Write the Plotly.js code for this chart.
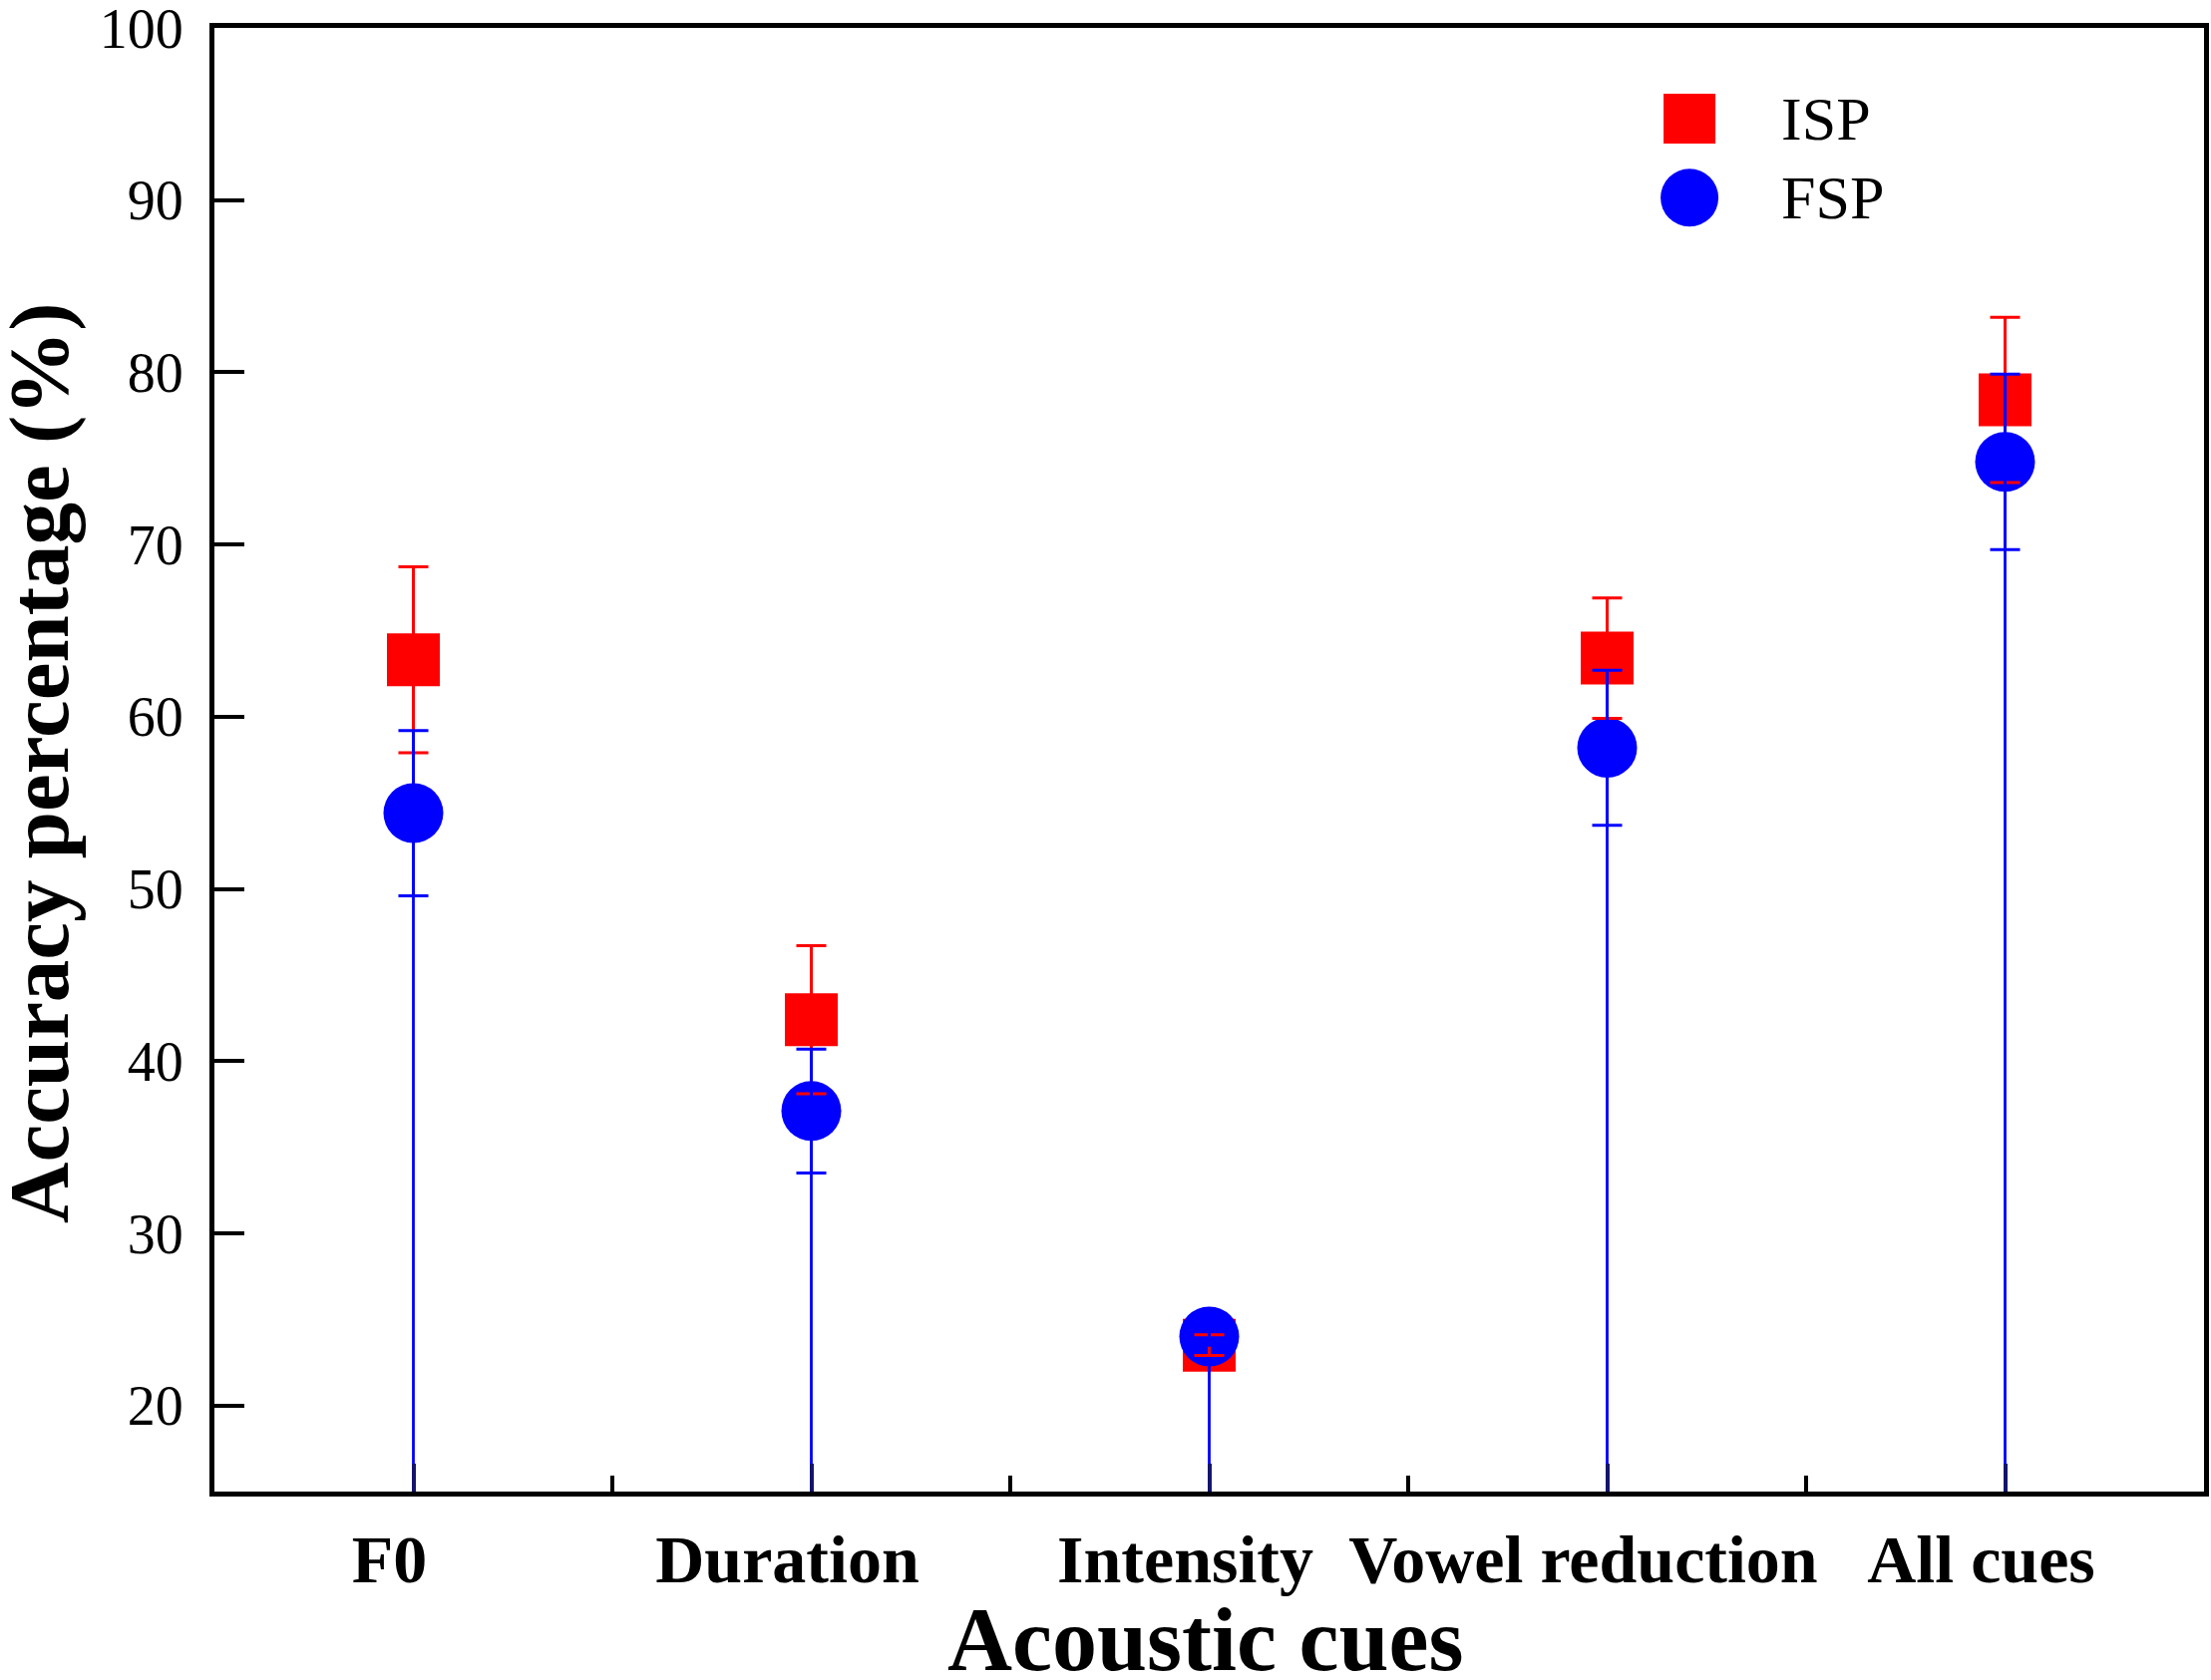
<!DOCTYPE html>
<html>
<head>
<meta charset="utf-8">
<script src="https://cdn.plot.ly/plotly-3.0.1.min.js"></script>
<style>
  html, body { margin: 0; padding: 0; background: #fff; }
  #chart { width: 2217px; height: 1685px; }
</style>
</head>
<body>
<div id="chart"></div>
<script>
// data
var cues = ['F0', 'Duration', 'Intensity', 'Vowel reduction', 'All cues'];
var ispMean = [63.3, 42.4, 23.5, 63.4, 78.4];
var ispErr = [5.4, 4.3, 0.6, 3.5, 4.8];
var fspMean = [54.4, 37.1, 24.0, 58.2, 74.8];
var fspErr = [4.8, 3.6, 0.5, 4.5, 5.1];
var yTicks = [20, 30, 40, 50, 60, 70, 80, 90, 100];

var yMin = 15, yMax = 100;
var red = '#ff0000', blue = '#0000ff';
var serif = 'Liberation Serif, Times New Roman, serif';

var xIdx = cues.map(function (c, i) { return i; });

// blue drop lines from each FSP point to the bottom axis
var dropX = [], dropY = [];
xIdx.forEach(function (i) {
  dropX.push(i, i, null);
  dropY.push(fspMean[i], yMin, null);
});

var isp = {
  x: xIdx, y: ispMean, name: 'ISP', type: 'scatter', mode: 'markers',
  marker: { symbol: 'square', size: 53, color: red },
  showlegend: false, hoverinfo: 'skip'
};
var fsp = {
  x: xIdx, y: fspMean, name: 'FSP', type: 'scatter', mode: 'markers',
  marker: { symbol: 'circle', size: 60, color: blue },
  showlegend: false, hoverinfo: 'skip'
};
var drops = {
  x: dropX, y: dropY, type: 'scatter', mode: 'lines',
  line: { color: blue, width: 2.8 }, showlegend: false, hoverinfo: 'skip'
};
// error bars drawn above all markers, as in the original
var ispBars = {
  x: xIdx, y: ispMean, type: 'scatter', mode: 'markers',
  marker: { size: 1, color: 'rgba(0,0,0,0)' },
  error_y: { type: 'data', array: ispErr, visible: true, color: red, thickness: 3, width: 15 },
  showlegend: false, hoverinfo: 'skip'
};
var fspBars = {
  x: xIdx, y: fspMean, type: 'scatter', mode: 'markers',
  marker: { size: 1, color: 'rgba(0,0,0,0)' },
  error_y: { type: 'data', array: fspErr, visible: true, color: blue, thickness: 3, width: 15 },
  showlegend: false, hoverinfo: 'skip'
};

var layout = {
  width: 2217, height: 1685,
  margin: { l: 215, r: 7, t: 28, b: 189 },
  paper_bgcolor: '#fff', plot_bgcolor: '#fff',
  font: { family: serif, color: '#000' },
  showlegend: false,
  xaxis: {
    range: [-0.5, 4.5],
    tickmode: 'array', tickvals: xIdx, ticktext: cues,
    ticks: 'inside', ticklen: 28, tickwidth: 4, tickcolor: '#14146e',
    tickfont: { family: serif, size: 68, weight: 'bold', color: '#000' },
    ticklabelstandoff: 4, ticklabelshift: -24,
    minor: { tickmode: 'array', tickvals: [0.5, 1.5, 2.5, 3.5], ticks: 'inside', ticklen: 16, tickwidth: 4, tickcolor: '#000', showgrid: false },
    showline: true, linecolor: '#000', linewidth: 5, mirror: true,
    showgrid: false, zeroline: false
  },
  yaxis: {
    range: [yMin, yMax],
    tickmode: 'array', tickvals: yTicks,
    ticks: 'inside', ticklen: 30, tickwidth: 4, tickcolor: '#000',
    tickfont: { family: serif, size: 56, color: '#000' },
    ticklabelstandoff: 15, ticklabeloverflow: 'allow',
    showline: true, linecolor: '#000', linewidth: 5, mirror: true,
    showgrid: false, zeroline: false
  },
  // legend drawn by hand so the symbols keep the plotted size
  shapes: [
    { type: 'rect', xref: 'paper', yref: 'paper', xsizemode: 'pixel', ysizemode: 'pixel',
      xanchor: 0.7414, yanchor: 0.938, x0: -26, x1: 26, y0: -25, y1: 25,
      fillcolor: red, line: { width: 0 } },
    { type: 'circle', xref: 'paper', yref: 'paper', xsizemode: 'pixel', ysizemode: 'pixel',
      xanchor: 0.7414, yanchor: 0.884, x0: -29, x1: 29, y0: -29, y1: 29,
      fillcolor: blue, line: { width: 0 } }
  ],
  annotations: [
    { xref: 'paper', yref: 'paper', x: 0.7865, y: 0.938, xanchor: 'left', yanchor: 'middle',
      text: 'ISP', showarrow: false, font: { family: serif, size: 62, color: '#000' } },
    { xref: 'paper', yref: 'paper', x: 0.7865, y: 0.884, xanchor: 'left', yanchor: 'middle',
      text: 'FSP', showarrow: false, font: { family: serif, size: 62, color: '#000' } },
    // axis titles placed as annotations for exact positioning
    { xref: 'paper', yref: 'paper', x: 0.498, y: -0.066, xanchor: 'center', yanchor: 'top',
      text: '<b>Acoustic cues</b>', showarrow: false, font: { family: serif, size: 90, color: '#000' } },
    { xref: 'paper', yref: 'paper', x: -0.0877, y: 0.498, xanchor: 'center', yanchor: 'middle',
      textangle: -90, text: '<b>Accuracy percentage (%)</b>', showarrow: false,
      font: { family: serif, size: 85, color: '#000' } }
  ]
};

Plotly.newPlot('chart', [isp, fsp, drops, ispBars, fspBars], layout, { displayModeBar: false, staticPlot: true });
</script>
</body>
</html>
